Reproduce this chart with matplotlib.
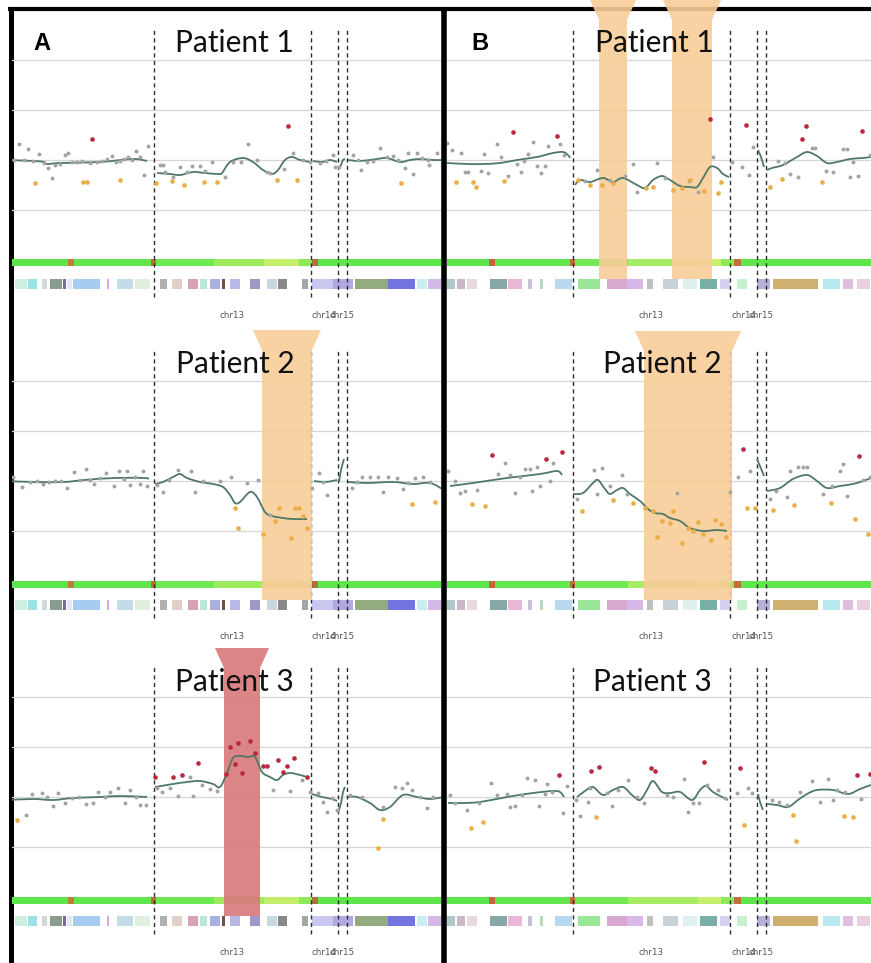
import matplotlib
matplotlib.use("Agg")
import matplotlib.pyplot as plt
from matplotlib.lines import Line2D
from matplotlib.path import Path
from matplotlib.patches import PathPatch

# ---------------- genome layout (plot units, chr13 starts at 0) ----------------
chrom_names = ["chr12", "chr13", "chr14", "chr15", "chr16"]
chrom_start = [-320, 0, 157, 184, 193]
chrom_end = [0, 157, 184, 193, 450]
grid_levels = [1.0, 0.5, 0.0, -0.5]

# ---------------- log-ratio profiles, panel A ----------------
a1_gray = [(-140, 0.00), (-135, 0.16), (-130, 0.00), (-126, 0.11), (-121, -0.01), (-115, 0.06), (-110, -0.03),
           (-106, -0.08), (-102, -0.18), (-99, -0.05), (-94, -0.04), (-89, 0.05), (-86, 0.07), (-82, -0.02),
           (-77, -0.02), (-72, -0.01), (-64, -0.03), (-57, -0.02), (-52, -0.01), (-47, 0.01), (-42, 0.04),
           (-38, -0.02), (-34, -0.01), (-30, 0.01), (-26, 0.03), (-22, 0.00), (-18, 0.09), (-14, 0.03),
           (-10, -0.15), (-6, 0.14),
           (6, -0.05), (9, -0.05), (11, -0.12), (19, -0.17), (26, -0.07), (33, -0.12), (38, -0.06), (46, -0.06),
           (51, -0.11), (58, -0.02), (71, -0.17), (79, -0.02), (87, -0.02), (94, 0.16), (103, 0.00), (113, -0.12),
           (116, -0.13), (130, -0.09), (139, 0.07), (149, 0.00), (156, -0.02),
           (166, -0.03), (172, -0.01), (179, 0.05), (181, -0.07), (185, -0.07),
           (199, 0.05), (204, 0.00), (207, -0.10), (213, -0.02), (219, -0.01), (226, 0.12), (233, 0.03),
           (239, 0.04), (244, 0.00), (251, -0.08), (254, 0.07), (259, -0.14), (263, 0.07), (268, 0.02),
           (274, 0.00), (275, -0.05), (283, 0.07)]
a1_orange = [(-119, -0.23), (-71, -0.22), (-67, -0.22), (-34, -0.20), (2, -0.23), (18, -0.21), (30, -0.25),
             (50, -0.22), (63, -0.22), (123, -0.20), (143, -0.20), (247, -0.23)]
a1_red = [(-62, 0.21), (134, 0.34)]
a1_line = [(-147, 0.0), (-120, -0.01), (-110, -0.02), (-107, -0.04), (-94, -0.03), (-54, -0.02), (-21, 0.01),
           (-7, -0.01),
           (3, -0.13), (16, -0.14), (26, -0.15), (39, -0.12), (51, -0.13), (64, -0.14), (68, -0.13), (76, -0.02),
           (89, 0.02), (99, -0.02), (109, -0.10), (118, -0.14), (124, -0.10), (131, 0.0), (138, 0.03),
           (146, 0.0), (156, -0.02),
           (159, -0.01), (168, -0.02), (176, 0.0), (183, -0.02),
           (185, -0.08), (187, -0.05), (189, 0.0), (191, 0.01),
           (194, 0.0), (206, -0.01), (223, 0.01), (233, 0.02), (246, -0.02), (256, 0.0), (266, 0.01),
           (279, 0.0), (290, 0.0)]

a2_gray = [(-141, 0.04), (-132, -0.06), (-124, -0.01), (-117, 0.0), (-111, -0.03), (-105, -0.01), (-99, 0.0),
           (-93, 0.0), (-87, -0.07), (-80, 0.09), (-74, 0.01), (-68, 0.12), (-64, 0.01), (-60, -0.03),
           (-54, 0.03), (-48, 0.08), (-40, -0.05), (-35, 0.10), (-30, 0.02), (-27, 0.10), (-24, -0.04),
           (-19, 0.04), (-14, -0.03), (-11, 0.10), (-7, -0.05),
           (3, -0.04), (9, -0.11), (15, 0.01), (24, 0.11), (37, 0.10), (41, -0.11), (49, 0.0), (66, 0.0),
           (77, 0.04), (93, -0.02), (104, 0.01), (116, -0.34),
           (158, -0.07), (165, 0.08), (169, -0.01), (173, -0.14),
           (198, -0.07), (203, -0.01), (208, 0.04), (216, 0.04), (224, 0.04), (229, -0.11), (234, 0.04),
           (243, 0.03), (249, -0.08), (254, -0.02), (261, 0.03), (269, 0.04), (276, -0.01)]
a2_orange = [(81, -0.27), (84, -0.47), (109, -0.53), (121, -0.40), (125, -0.27), (137, -0.57), (141, -0.27),
             (145, -0.27), (149, -0.35), (153, -0.47), (258, -0.23), (281, -0.21)]
a2_red = []
a2_line = [(-150, 0.0), (-120, -0.01), (-90, -0.01), (-70, 0.01), (-40, 0.03), (-10, 0.03), (-5, 0.02),
           (1, -0.03), (9, -0.01), (19, 0.04), (26, 0.07), (33, 0.03), (46, -0.01), (59, -0.03), (69, -0.06),
           (76, -0.14), (81, -0.22), (86, -0.21), (96, -0.11), (103, -0.16), (111, -0.31), (118, -0.35),
           (129, -0.37), (139, -0.38), (153, -0.38),
           (160, 0.0), (170, -0.01), (178, 0.0), (183, 0.01),
           (185, -0.01), (187, 0.11), (190, 0.22),
           (194, -0.01), (213, -0.02), (239, -0.01), (259, -0.03), (276, -0.02), (290, -0.09)]

a3_gray = [(-146, -0.03), (-128, -0.18), (-122, 0.03), (-112, 0.04), (-107, 0.0), (-101, -0.09), (-96, 0.04),
           (-89, -0.06), (-82, -0.01), (-75, 0.0), (-68, -0.07), (-61, -0.06), (-56, 0.05), (-49, 0.0),
           (-44, 0.05), (-36, 0.09), (-29, -0.06), (-24, 0.07), (-18, 0.0), (-14, -0.08), (-8, -0.08),
           (3, 0.09), (8, 0.05), (16, 0.09), (24, 0.01), (36, 0.20), (39, 0.01), (48, 0.12), (56, 0.08),
           (63, 0.06), (119, 0.07), (136, 0.06), (148, 0.17),
           (156, 0.05), (164, 0.04), (169, -0.05), (173, -0.15), (178, -0.01), (183, -0.13),
           (196, 0.02), (208, 0.0), (229, -0.10), (241, 0.10), (248, 0.09), (253, 0.14), (258, 0.07),
           (266, 0.0), (273, -0.11), (279, 0.0)]
a3_orange = [(-137, -0.23), (229, -0.22), (224, -0.51)]
a3_red = [(1, 0.20), (19, 0.20), (28, 0.22), (44, 0.34), (72, 0.23), (76, 0.50), (81, 0.33), (84, 0.54),
          (88, 0.24), (96, 0.56), (101, 0.44), (109, 0.31), (113, 0.31), (124, 0.37), (129, 0.25),
          (133, 0.31), (140, 0.39), (153, 0.20)]
a3_line = [(-146, -0.03), (-121, -0.02), (-101, -0.03), (-81, -0.01), (-54, 0.0), (-34, 0.01), (-7, 0.0),
           (1, 0.10), (19, 0.13), (33, 0.15), (46, 0.16), (59, 0.13), (66, 0.10), (73, 0.24), (79, 0.39),
           (86, 0.41), (94, 0.40), (101, 0.40), (108, 0.25), (116, 0.20), (123, 0.17), (129, 0.22),
           (136, 0.24), (146, 0.22), (153, 0.20),
           (158, 0.03), (168, 0.0), (178, -0.02), (183, -0.04),
           (184, -0.16), (187, -0.06), (189, 0.05), (191, 0.10),
           (194, 0.0), (203, 0.0), (216, -0.06), (226, -0.13), (236, -0.10), (249, 0.02), (263, 0.0),
           (276, -0.02), (290, 0.0)]

# ---------------- log-ratio profiles, panel B ----------------
b1_gray = [(-126, 0.17), (-121, 0.10), (-112, 0.07), (-108, -0.12), (-105, -0.12), (-92, -0.11), (-89, 0.06),
           (-85, -0.13), (-76, 0.16), (-72, 0.03), (-65, -0.16), (-56, -0.04), (-52, -0.12), (-49, -0.01),
           (-45, 0.06), (-40, 0.18), (-36, -0.06), (-32, -0.13), (-28, -0.06), (-25, 0.14), (-13, 0.16),
           (-9, 0.05),
           (12, -0.21), (24, -0.10), (37, -0.20), (52, -0.16), (60, -0.04), (64, -0.32), (84, -0.03),
           (92, -0.18), (116, -0.21), (125, -0.32), (140, 0.03),
           (159, -0.02), (169, -0.07), (176, -0.15), (180, 0.13),
           (205, -0.01), (212, -0.03), (217, -0.14), (225, -0.17), (239, 0.12), (242, 0.12), (253, -0.11),
           (260, -0.12), (270, 0.11), (274, 0.11), (277, -0.17), (280, -0.02), (285, -0.16), (297, 0.05)]
b1_orange = [(-117, -0.22), (-100, -0.22), (-97, -0.27), (-69, -0.21), (5, -0.20), (17, -0.25), (29, -0.25),
             (40, -0.23), (73, -0.28), (80, -0.27), (100, -0.30), (109, -0.28), (117, -0.20), (131, -0.31),
             (145, -0.33), (148, -0.22), (197, -0.27), (209, -0.19), (249, -0.22)]
b1_red = [(-60, 0.28), (-16, 0.24), (137, 0.41), (173, 0.35), (229, 0.21), (233, 0.34), (289, 0.29)]
b1_line = [(-126, -0.03), (-106, -0.04), (-90, -0.04), (-73, -0.03), (-56, 0.0), (-36, 0.03), (-20, 0.07),
           (-10, 0.08), (-5, 0.05), (-3, 0.02),
           (2, -0.25), (7, -0.20), (17, -0.22), (30, -0.18), (40, -0.22), (50, -0.18), (64, -0.25),
           (72, -0.28), (80, -0.20), (89, -0.16), (97, -0.20), (107, -0.26), (117, -0.27), (124, -0.27),
           (130, -0.18), (137, -0.07), (144, -0.08), (150, -0.14), (156, -0.17),
           (185, 0.10), (188, 0.03), (191, -0.07),
           (194, -0.10), (199, -0.08), (210, -0.05), (224, 0.03), (234, 0.08), (244, 0.04), (254, -0.03),
           (264, -0.02), (277, 0.01), (290, 0.02), (298, 0.03)]

b2_gray = [(-125, 0.10), (-118, 0.0), (-113, -0.12), (-108, -0.10), (-96, -0.09), (-75, 0.07), (-68, 0.18),
           (-63, 0.06), (-58, -0.12), (-53, 0.04), (-48, 0.12), (-43, 0.12), (-41, -0.10), (-36, 0.14),
           (-33, -0.05), (-23, 0.0), (-20, 0.18),
           (4, -0.18), (21, 0.11), (24, -0.13), (29, 0.13), (37, -0.05), (49, 0.06), (54, -0.13),
           (104, -0.12), (157, -0.11),
           (165, 0.04), (177, 0.10),
           (197, -0.18), (203, -0.10), (214, -0.16), (217, 0.10), (225, 0.14), (230, 0.14), (234, 0.14),
           (250, -0.13), (259, -0.05), (267, 0.10), (270, 0.17), (274, -0.15), (290, 0.01), (297, 0.04)]
b2_orange = [(-101, -0.23), (-88, -0.25), (9, -0.30), (40, -0.19), (60, -0.22), (72, -0.27), (80, -0.30),
             (84, -0.56), (89, -0.40), (97, -0.42), (100, -0.30), (109, -0.62), (115, -0.47), (120, -0.50),
             (125, -0.41), (130, -0.53), (138, -0.59), (142, -0.39), (148, -0.43), (153, -0.56), (174, -0.27),
             (182, -0.27), (200, -0.29), (221, -0.24), (258, -0.22), (282, -0.38), (295, -0.53)]
b2_red = [(-81, 0.26), (-27, 0.22), (-11, 0.29), (170, 0.32), (286, 0.25)]
b2_line = [(-123, -0.05), (-100, -0.02), (-66, 0.03), (-33, 0.07), (-16, 0.10), (-11, 0.06),
           (0, -0.13), (10, -0.12), (20, -0.02), (25, 0.01), (32, -0.08), (37, -0.13), (44, -0.09),
           (50, -0.07), (57, -0.13), (67, -0.20), (75, -0.28), (82, -0.32), (90, -0.33), (97, -0.37),
           (107, -0.40), (117, -0.47), (130, -0.50), (144, -0.49), (154, -0.50),
           (184, 0.22), (189, 0.10), (191, 0.05),
           (194, -0.10), (207, -0.07), (220, 0.02), (234, 0.06), (244, 0.0), (254, -0.07), (267, -0.05),
           (280, -0.03), (290, 0.0), (298, 0.03)]

b3_gray = [(-123, 0.02), (-118, -0.06), (-106, -0.13), (-94, -0.06), (-82, 0.14), (-76, 0.02), (-66, 0.03),
           (-63, -0.10), (-58, -0.09), (-51, 0.02), (-46, 0.19), (-38, 0.17), (-34, -0.09), (-28, 0.03),
           (-26, 0.13), (-21, 0.05), (-10, -0.16), (-6, 0.11),
           (3, -0.03), (7, -0.19), (15, -0.05), (17, 0.09), (34, 0.04), (39, -0.09), (45, 0.07), (55, 0.17),
           (64, 0.0), (71, -0.06), (94, 0.02), (100, 0.0), (111, 0.18), (115, -0.15), (120, -0.06),
           (126, -0.06), (134, 0.12), (145, 0.07), (152, -0.01),
           (164, 0.04), (175, 0.09), (179, 0.04),
           (199, -0.03), (206, -0.05), (214, -0.08), (227, 0.05), (239, 0.16), (247, -0.05), (255, 0.18),
           (260, -0.03), (264, 0.07), (272, 0.05), (288, -0.02)]
b3_orange = [(-102, -0.31), (-90, -0.25), (23, -0.20), (171, -0.28), (220, -0.18), (223, -0.44),
             (271, -0.19), (280, -0.20)]
b3_red = [(-14, 0.22), (18, 0.26), (26, 0.30), (78, 0.29), (82, 0.26), (131, 0.35), (167, 0.29),
          (284, 0.22), (297, 0.23)]
b3_line = [(-125, -0.06), (-110, -0.06), (-93, -0.05), (-66, 0.0), (-40, 0.04), (-20, 0.06), (-13, 0.05),
           (-9, 0.0),
           (4, 0.0), (12, 0.06), (20, 0.10), (30, 0.02), (40, 0.07), (50, 0.10), (59, 0.02), (67, -0.03),
           (74, 0.07), (80, 0.16), (89, 0.05), (97, 0.04), (107, 0.05), (119, -0.03), (127, 0.07),
           (133, 0.11), (140, 0.05), (149, 0.0), (155, -0.03),
           (185, 0.03), (187, -0.05), (190, -0.13),
           (194, -0.07), (204, -0.08), (215, -0.10), (225, -0.03), (234, 0.03), (244, 0.07), (260, 0.07),
           (275, 0.03), (287, 0.08), (298, 0.12)]

# ---------------- highlighted regions (start, end) ----------------
a2_regions = [(108, 158)]
a3_regions = [(70, 106)]
b1_regions = [(26, 54), (99, 139)]
b2_regions = [(71, 159)]

# ---------------- call track (start, end, colour) ----------------
a_calls = [(-150, -86, "#5de64b"), (-86, -80, "#c47a38"), (-80, -3, "#61e74d"), (-3, 2, "#c06a34"),
           (2, 60, "#6ee853"), (60, 110, "#9feb60"), (110, 145, "#c4ef6b"), (145, 158, "#8ce95a"),
           (158, 164, "#b4703c"), (164, 300, "#5ee64c")]
b_calls = [(-130, -84, "#5de64b"), (-84, -78, "#c8643c"), (-78, -3, "#62e74e"), (-3, 2, "#b8703a"),
           (2, 55, "#72e854"), (55, 125, "#a6ec64"), (125, 148, "#c8f06c"), (148, 161, "#8ce95a"),
           (161, 168, "#c07040"), (168, 300, "#5ee64c")]

# ---------------- probe/gene track (start, end, colour) ----------------
a_track = [(-139, -127, "#cdeee0"), (-126, -117, "#9fdfe6"), (-112, -107, "#d0d8d8"), (-104, -92, "#8a9c90"),
           (-91, -88, "#7a6aa0"), (-87, -82, "#e0e8f0"), (-81, -54, "#a6cdef"), (-47, -45, "#d8a8e0"),
           (-37, -21, "#c4dce8"), (-19, -4, "#e0efe0"), (6, 13, "#b0b0b0"), (18, 28, "#e0d0c8"),
           (34, 44, "#d8a0b0"), (46, 53, "#b8e8d8"), (56, 66, "#a8b0e0"), (68, 71, "#705050"),
           (76, 86, "#b8b8e8"), (96, 106, "#a098c8"), (113, 123, "#c8d8e0"), (124, 133, "#888888"),
           (148, 154, "#a0a8a8"), (158, 179, "#c8c8f0"), (179, 199, "#b0a8e0"), (201, 234, "#94aa80"),
           (234, 261, "#7474e0"), (263, 273, "#c8eef0"), (274, 287, "#d4b8e8")]
b_track = [(-126, -118, "#b0c8c8"), (-116, -108, "#c8b8c8"), (-106, -96, "#e8d8e0"), (-83, -66, "#88a8a8"),
           (-65, -51, "#e8b8d8"), (-45, -41, "#c8c0d8"), (-33, -30, "#b8d8c0"), (-18, -1, "#b8d8f0"),
           (5, 27, "#98e898"), (34, 54, "#d8a8d0"), (54, 70, "#d8b8e8"), (74, 80, "#c0c0c0"),
           (90, 105, "#c8d0d8"), (110, 124, "#e0f0f0"), (127, 144, "#78b0a8"), (147, 157, "#d8d0f0"),
           (164, 174, "#c8f0d0"), (184, 197, "#b8b0d8"), (200, 245, "#d0b070"), (250, 267, "#b8e8f0"),
           (270, 280, "#e0c0e0"), (284, 297, "#e8d0e0")]

patient_titles = ["Patient 1", "Patient 2", "Patient 3"]

# ---------------- figure layout (pixels) ----------------
W, H = 871, 963
fig = plt.figure(figsize=(W / 100, H / 100), dpi=100)
fig.patch.set_facecolor("white")

col_px = {"A": (12, 441, -142), "B": (447, 871, -126)}   # left px, right px, x value at left edge
row_centre_px = [160, 481, 797]
y_lo, y_hi = -1.65, 1.60
title_xpos = {"A": [80, 81, 80], "B": [81, 89, 79]}
title_ypos = [1.17, 1.17, 1.15]

GRAY_PT = "#a4a4a4"
ORANGE_PT = "#e9ae45"
RED_PT = "#b8283e"
TREND = "#4f7866"
BAND_COLOURS = {"gain": "#d9787a", "loss": "#f8cd98"}


def split_by_chrom(pts):
    pieces = []
    for s, e in zip(chrom_start, chrom_end):
        seg = [(x, y) for x, y in pts if s <= x < e]
        if seg:
            pieces.append(seg)
    return pieces


def smooth_path(seg):
    """Catmull-Rom curve through the trend knots, expressed as cubic Bezier segments."""
    if len(seg) < 3:
        return Path(seg)
    pts = [seg[0]] + list(seg) + [seg[-1]]
    verts = [seg[0]]
    codes = [Path.MOVETO]
    for i in range(1, len(pts) - 2):
        p0, p1, p2, p3 = pts[i - 1], pts[i], pts[i + 1], pts[i + 2]
        c1 = (p1[0] + (p2[0] - p0[0]) / 6, p1[1] + (p2[1] - p0[1]) / 6)
        c2 = (p2[0] - (p3[0] - p1[0]) / 6, p2[1] - (p3[1] - p1[1]) / 6)
        verts += [c1, c2, p2]
        codes += [Path.CURVE4] * 3
    return Path(verts, codes)


def draw_profile(ax, col, row, gray, orange, red, trend, regions, kind, band_top):
    left, right, x0 = col_px[col]
    ax.set_xlim(x0, x0 + (right - left))
    ax.set_ylim(y_lo, y_hi)
    ax.axis("off")

    for g in grid_levels:
        ax.axhline(g, color="#d6d6d6", lw=0.9, zorder=1)

    ax.vlines(chrom_start[1:], -1.37, 1.32, colors="#2e2e2e", lw=1.0,
              linestyles=(0, (3, 2.4)), zorder=2.5)

    track = a_track if col == "A" else b_track
    calls = a_calls if col == "A" else b_calls
    ax.broken_barh([(s, e - s) for s, e, _ in track], (-1.29, 0.10),
                   facecolors=[c for _, _, c in track], zorder=2)
    ax.broken_barh([(s, e - s) for s, e, _ in calls], (-1.065, 0.07),
                   facecolors=[c for _, _, c in calls], zorder=2)

    flare, neck = 9, 0.2
    for s, e in regions:
        verts = [(s - flare, band_top), (e + flare, band_top), (e, band_top - neck),
                 (e, -1.19), (s, -1.19), (s, band_top - neck)]
        ax.fill(*zip(*verts), color=BAND_COLOURS[kind], alpha=0.9, lw=0, zorder=3)

    for seg in split_by_chrom(trend):
        ax.add_patch(PathPatch(smooth_path(seg), facecolor="none", edgecolor=TREND,
                               lw=1.3, joinstyle="round", zorder=4))

    for pts, colour, size in ((gray, GRAY_PT, 8), (orange, ORANGE_PT, 11), (red, RED_PT, 11)):
        if pts:
            xs, ys = zip(*pts)
            ax.scatter(xs, ys, s=size, color=colour, linewidths=0, zorder=5)

    for name, s, e in zip(chrom_names, chrom_start, chrom_end):
        c = 0.5 * (s + e)
        if x0 < c < x0 + (right - left):
            ax.text(c, -1.555, name, ha="center", va="center", fontsize=6.3,
                    color="#555555", zorder=6)

    ax.text(title_xpos[col][row], title_ypos[row], patient_titles[row], ha="center", va="center",
            fontsize=21.5, family="Lato", color="#111111", zorder=7)


profiles = [
    ("A", 0, a1_gray, a1_orange, a1_red, a1_line, [], "loss", 1.5),
    ("A", 1, a2_gray, a2_orange, a2_red, a2_line, a2_regions, "loss", 1.51),
    ("A", 2, a3_gray, a3_orange, a3_red, a3_line, a3_regions, "gain", 1.49),
    ("B", 0, b1_gray, b1_orange, b1_red, b1_line, b1_regions, "loss", 1.60),
    ("B", 1, b2_gray, b2_orange, b2_red, b2_line, b2_regions, "loss", 1.50),
    ("B", 2, b3_gray, b3_orange, b3_red, b3_line, [], "loss", 1.5),
]

for col, row, gray, orange, red, trend, regions, kind, band_top in profiles:
    left, right, _ = col_px[col]
    c = row_centre_px[row]
    top_px = c - y_hi * 100
    bot_px = c - y_lo * 100
    ax = fig.add_axes([left / W, 1 - bot_px / H, (right - left) / W, (bot_px - top_px) / H])
    ax.set_facecolor("none")
    draw_profile(ax, col, row, gray, orange, red, trend, regions, kind, band_top)

# panel frames
frame = dict(color="black", transform=fig.transFigure, zorder=-1, solid_capstyle="butt")
fig.add_artist(Line2D([10.5 / W, 10.5 / W], [0, 1 - 7 / H], lw=3.6, **frame))
fig.add_artist(Line2D([444 / W, 444 / W], [0, 1 - 7 / H], lw=4.0, **frame))
fig.add_artist(Line2D([8 / W, 1], [1 - 9 / H, 1 - 9 / H], lw=3.0, **frame))

fig.text(42 / W, 1 - 43 / H, "A", ha="center", va="center", fontsize=17, fontweight="bold",
         family="Liberation Sans")
fig.text(480 / W, 1 - 43 / H, "B", ha="center", va="center", fontsize=17, fontweight="bold",
         family="Liberation Sans")

fig.savefig("out.png", dpi=100)
